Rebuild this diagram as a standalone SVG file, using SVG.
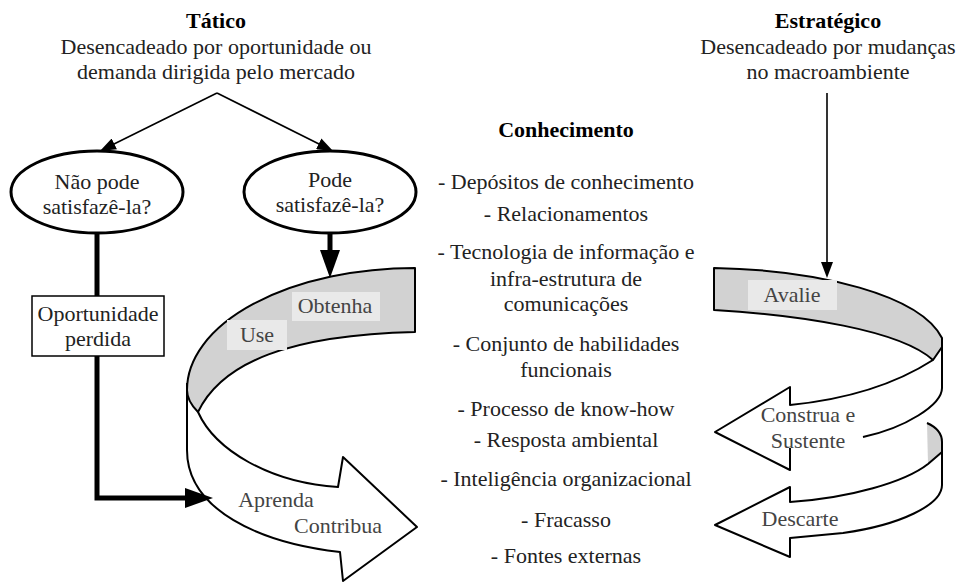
<svg xmlns="http://www.w3.org/2000/svg" width="958" height="585" viewBox="0 0 958 585">
<defs>
<style>
text{font-family:"Liberation Serif","Times New Roman",serif;font-size:22px;fill:#222;text-anchor:middle}
.b{font-weight:bold;fill:#000}
.lbl{fill:#444}
.ln{fill:none;stroke:#000;stroke-width:1.6}
.thick{fill:none;stroke:#000;stroke-width:5}
.edge{fill:none;stroke:#000;stroke-width:2;stroke-linejoin:round}
.gray{fill:#d2d2d2;stroke:#000;stroke-width:2;stroke-linejoin:round}
.gfill{fill:#d2d2d2;stroke:none}
.tag{fill:#e9e9e9;stroke:none}
.ell{fill:#fff;stroke:#000;stroke-width:3}
.box{fill:#fff;stroke:#000;stroke-width:1.5}
</style>
<marker id="ah" viewBox="0 0 16 12" refX="2" refY="6" markerWidth="16" markerHeight="12" markerUnits="userSpaceOnUse" orient="auto"><path d="M0,0 L16,6 L0,12 z" fill="#000"/></marker>
<marker id="ahT" viewBox="0 0 28 20" refX="3" refY="10" markerWidth="28" markerHeight="20" markerUnits="userSpaceOnUse" orient="auto"><path d="M0,0 L28,10 L0,20 z" fill="#000"/></marker>
</defs>
<rect width="958" height="585" fill="#fff"/>

<g id="tatico">
<text class="b" x="216" y="28">Tático</text>
<text x="216" y="54">Desencadeado por oportunidade ou</text>
<text x="216" y="79">demanda dirigida pelo mercado</text>
</g>
<g id="estrategico">
<text class="b" x="828" y="28">Estratégico</text>
<text x="828" y="54">Desencadeado por mudanças</text>
<text x="828" y="79">no macroambiente</text>
</g>

<g id="connectors">
<path class="ln" d="M217,93 L112.5,144.8" marker-end="url(#ah)"/>
<path class="ln" d="M217,93 L320.5,144.7" marker-end="url(#ah)"/>
<path class="ln" d="M827,93 L827,264" marker-end="url(#ah)"/>
<path class="thick" d="M330,234 L330,253" marker-end="url(#ahT)"/>
<path class="thick" d="M97,234 L97,296"/>
<path class="thick" d="M97,356 L97,498 L188,498" marker-end="url(#ahT)"/>
</g>

<g id="nao-pode">
<ellipse class="ell" cx="97" cy="192" rx="86" ry="41"/>
<text x="97" y="189">Não pode</text>
<text x="97" y="214">satisfazê-la?</text>
</g>
<g id="pode">
<ellipse class="ell" cx="330" cy="192" rx="86" ry="41"/>
<text x="330" y="187">Pode</text>
<text x="330" y="212">satisfazê-la?</text>
</g>
<g id="oportunidade-perdida">
<rect class="box" x="32" y="296" width="132" height="60"/>
<text x="98" y="321">Oportunidade</text>
<text x="98" y="346">perdida</text>
</g>

<g id="ciclo-tatico">
<path class="edge" d="M187,383 L187,450 C187,510 260,543 340,552 L343,581 L417,527 L343,457 L338,487 C270,483 215,450 198,412"/>
<path class="gray" d="M415,268 A228,122 0 0 0 187,390 C187,398 192,406 198,412 C222,362 290,335 415,332 Z"/>
<g id="obtenha"><rect class="tag" x="292" y="292" width="88" height="29"/><text class="lbl" x="335" y="313">Obtenha</text></g>
<g id="use"><rect class="tag" x="227" y="320" width="60" height="30"/><text class="lbl" x="257" y="342">Use</text></g>
<g id="aprenda"><text class="lbl" x="276" y="507">Aprenda</text></g>
<g id="contribua"><text class="lbl" x="338" y="533">Contribua</text></g>
</g>

<g id="ciclo-estrategico">
<path class="gray" d="M714,268 C820,270 920,295 942,338 L942,347 L933,360 C900,330 800,315 714,310 Z"/>
<path class="edge" d="M942,340 L942,388 C942,405 905,428 863,437"/>
<path class="edge" d="M933,360 C905,378 860,398 790,405 L790,387 L715,432 L790,470 L790,448"/>
<path class="gfill" d="M927,423 C936,427 942,433 942,442 L942,452 L928,464 Z"/>
<path class="edge" d="M927,423 C936,427 942,433 942,442 L942,485 C942,505 900,525 843,533 L790,538 L790,557 L715,525 L790,487 L790,502 C850,498 905,482 928,464 L942,452"/>
<g id="avalie"><rect class="tag" x="748" y="280" width="89" height="30"/><text class="lbl" x="792" y="302">Avalie</text></g>
<g id="construa"><text class="lbl" x="808" y="422">Construa e</text><text class="lbl" x="808" y="448">Sustente</text></g>
<g id="descarte"><text class="lbl" x="800" y="526">Descarte</text></g>
</g>

<g id="conhecimento">
<text class="b" x="566" y="137">Conhecimento</text>
<text x="566" y="189">- Depósitos de conhecimento</text>
<text x="566" y="221">- Relacionamentos</text>
<text x="566" y="259">- Tecnologia de informação e</text>
<text x="566" y="286">infra-estrutura de</text>
<text x="566" y="311">comunicações</text>
<text x="566" y="351">- Conjunto de habilidades</text>
<text x="566" y="377">funcionais</text>
<text x="566" y="416">- Processo de know-how</text>
<text x="566" y="447">- Resposta ambiental</text>
<text x="566" y="486">- Inteligência organizacional</text>
<text x="566" y="527">- Fracasso</text>
<text x="566" y="563">- Fontes externas</text>
</g>
</svg>
